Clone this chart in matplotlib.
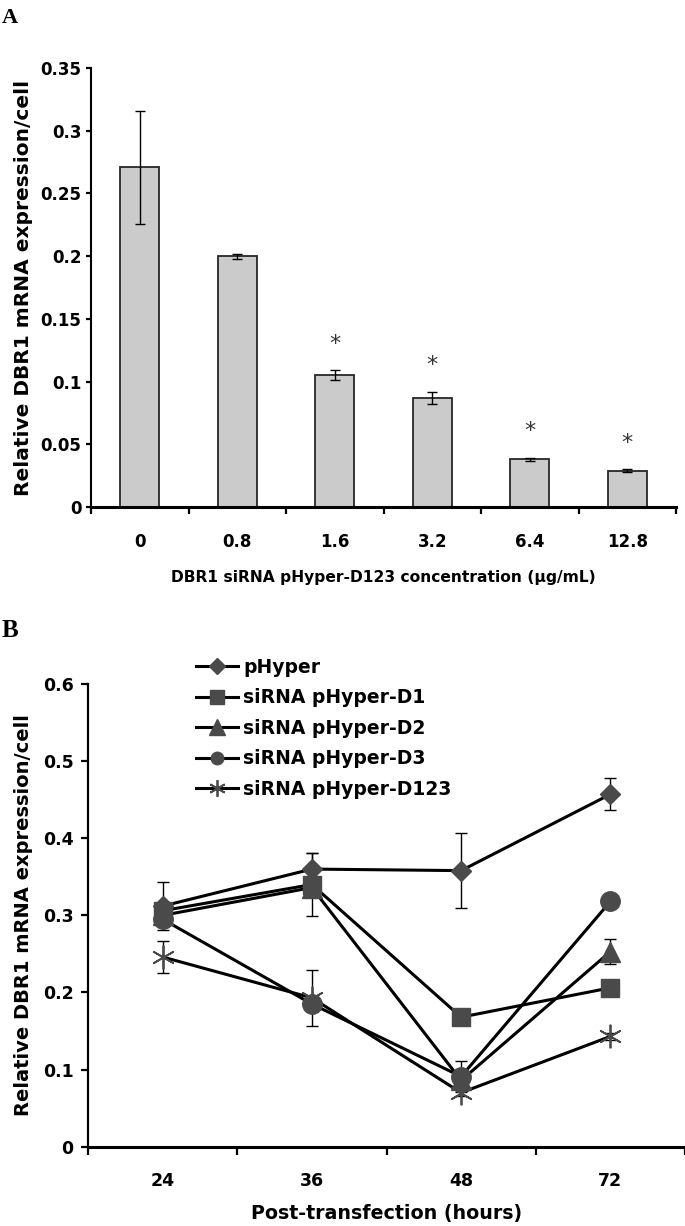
import numpy as np
import matplotlib
matplotlib.use("Agg")
import matplotlib.pyplot as plt
from matplotlib.lines import Line2D
from matplotlib.ticker import FuncFormatter

# panel A data
conc_labels = ["0", "0.8", "1.6", "3.2", "6.4", "12.8"]
expr_a = [0.271, 0.200, 0.105, 0.087, 0.038, 0.029]
err_a = [0.045, 0.002, 0.004, 0.005, 0.001, 0.001]
signif = [False, False, True, True, True, True]

# panel B data
hours = ["24", "36", "48", "72"]
series_names = ["pHyper", "siRNA pHyper-D1", "siRNA pHyper-D2",
                "siRNA pHyper-D3", "siRNA pHyper-D123"]
phyper = [0.312, 0.360, 0.358, 0.457]
d1 = [0.306, 0.340, 0.168, 0.206]
d2 = [0.300, 0.336, 0.086, 0.253]
d3 = [0.295, 0.185, 0.091, 0.318]
d123 = [0.246, 0.193, 0.070, 0.143]
phyper_err = [0.031, 0.021, 0.049, 0.021]
d1_err = [0.006, 0.041, 0.005, 0.005]
d2_err = [0.006, 0.006, 0.010, 0.016]
d3_err = [0.006, 0.006, 0.020, 0.006]
d123_err = [0.021, 0.036, 0.004, 0.004]

SANS = ["DejaVu Sans"]
SERIF = ["Liberation Serif", "DejaVu Serif"]
marker_col = "#4a4a4a"

fig = plt.figure(figsize=(6.85, 12.26), dpi=100)
W, H = 685.0, 1226.0

def gfmt(v, pos):
    return "%g" % round(v, 3)

# ---------------- panel A ----------------
ax1 = fig.add_axes([91 / W, 1 - 507 / H, 585 / W, 439 / H])
x = np.arange(len(conc_labels))
ax1.bar(x, expr_a, width=0.4, color="#cbcbcb", edgecolor="#262626", linewidth=1.3, zorder=2)
ax1.errorbar(x, expr_a, yerr=err_a, fmt="none", ecolor="black", elinewidth=1.0,
             capsize=3.6, capthick=1.0, zorder=3)
for xi, v, e, s in zip(x, expr_a, err_a, signif):
    if s:
        ax1.annotate("*", (xi, v + e), xytext=(0, 12), textcoords="offset points",
                     ha="center", va="bottom", fontsize=16, color="#333333",
                     family=["DejaVu Sans"])
ax1.set_xlim(-0.5, len(conc_labels) - 0.5)
ax1.set_ylim(0, 0.35)
ax1.set_yticks(np.arange(0, 0.351, 0.05))
ax1.yaxis.set_major_formatter(FuncFormatter(gfmt))
ax1.set_xticks(np.arange(-0.5, len(conc_labels), 1.0))
ax1.set_xticklabels([])
ax1.set_xticks(x, minor=True)
ax1.set_xticklabels(conc_labels, minor=True)
ax1.tick_params(axis="x", which="major", length=5, width=1.6, direction="out")
ax1.tick_params(axis="x", which="minor", length=0, pad=19)
ax1.tick_params(axis="y", length=3.6, width=1.6, direction="out", pad=3.2)
for lab in ax1.get_xticklabels(minor=True) + ax1.get_yticklabels():
    lab.set_family(SANS)
    lab.set_fontweight("bold")
    lab.set_fontsize(12)
ax1.spines["top"].set_visible(False)
ax1.spines["right"].set_visible(False)
ax1.spines["left"].set_linewidth(1.5)
ax1.spines["bottom"].set_linewidth(2.2)
ax1.set_ylabel("Relative DBR1 mRNA expression/cell", family=SANS, fontweight="bold", fontsize=14.5)
ax1.yaxis.set_label_coords(-0.099, 0.5)
ax1.set_xlabel("DBR1 siRNA pHyper-D123 concentration (\u03bcg/mL)", family=SANS,
               fontweight="bold", fontsize=11.2)
ax1.xaxis.set_label_coords(0.5, -0.1435)
fig.text(2 / W, 1 - 8 / H, "A", family=SERIF, fontweight="bold", fontsize=16, va="top")

# ---------------- panel B ----------------
ax2 = fig.add_axes([88 / W, 1 - 1146.7 / H, 597 / W, 462.7 / H])
xb = np.arange(len(hours))
all_vals = [phyper, d1, d2, d3, d123]
all_err = [phyper_err, d1_err, d2_err, d3_err, d123_err]
markers = ["D", "s", "^", "o", (6, 2, 0)]
msizes = [10.5, 13.5, 14, 14, 17]
leg_sizes = [8.5, 9.5, 11, 9, 12]
handles = []
for vals, errs, m, ms, lms in zip(all_vals, all_err, markers, msizes, leg_sizes):
    ax2.errorbar(xb, vals, yerr=errs, fmt="none", ecolor="black", elinewidth=1.0,
                 capsize=4.3, capthick=1.0, zorder=2)
    ax2.plot(xb, vals, color="black", linewidth=2.2, zorder=3)
    if m == markers[-1]:
        ax2.plot(xb, vals, linestyle="none", marker=m, markersize=ms, markeredgecolor=marker_col,
                 markeredgewidth=1.3, zorder=4)
        h = Line2D([], [], color="black", linewidth=2.2, marker=m, markersize=lms,
                   markeredgecolor=marker_col, markeredgewidth=1.3)
    else:
        ax2.plot(xb, vals, linestyle="none", marker=m, markersize=ms, color=marker_col,
                 markeredgecolor=marker_col, zorder=4)
        h = Line2D([], [], color="black", linewidth=2.2, marker=m, markersize=lms,
                   markerfacecolor=marker_col, markeredgecolor=marker_col)
    handles.append(h)

ax2.set_xlim(-0.5, len(hours) - 0.5)
ax2.set_ylim(0, 0.6)
ax2.set_yticks(np.arange(0, 0.61, 0.1))
ax2.yaxis.set_major_formatter(FuncFormatter(gfmt))
ax2.set_xticks(np.arange(-0.5, len(hours), 1.0))
ax2.set_xticklabels([])
ax2.set_xticks(xb, minor=True)
ax2.set_xticklabels(hours, minor=True)
ax2.tick_params(axis="x", which="major", length=6, width=1.6, direction="out")
ax2.tick_params(axis="x", which="minor", length=0, pad=18.5)
ax2.tick_params(axis="y", length=5, width=1.6, direction="out", pad=5.5)
for lab in ax2.get_xticklabels(minor=True) + ax2.get_yticklabels():
    lab.set_family(SANS)
    lab.set_fontweight("bold")
    lab.set_fontsize(12.5)
ax2.spines["top"].set_visible(False)
ax2.spines["right"].set_visible(False)
ax2.spines["left"].set_linewidth(1.6)
ax2.spines["bottom"].set_linewidth(2.2)
ax2.set_ylabel("Relative DBR1 mRNA expression/cell", family=SANS, fontweight="bold", fontsize=14)
ax2.yaxis.set_label_coords(-0.092, 0.5)
ax2.set_xlabel("Post-transfection (hours)", family=SANS, fontweight="bold", fontsize=13.7)
ax2.xaxis.set_label_coords(0.5, -0.124)

fig.legend(handles, series_names, loc="upper left", bbox_to_anchor=(196 / W, 1 - 658 / H),
           frameon=False, handlelength=2.24, handletextpad=0.27, labelspacing=0.61,
           borderpad=0, borderaxespad=0,
           prop={"family": SANS, "weight": "bold", "size": 13.5})
fig.text(2 / W, 1 - 619 / H, "B", family=SERIF, fontweight="bold", fontsize=18, va="top")

fig.savefig("out.png", dpi=100)
plt.close(fig)
